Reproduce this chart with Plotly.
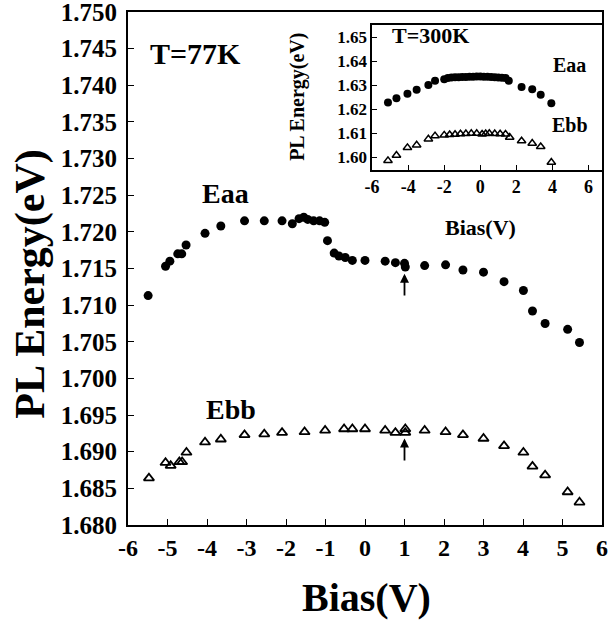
import plotly.graph_objects as go

# ---- Main panel (T=77K) ----
eaa_bias = [-5.49, -5.05, -4.94, -4.74, -4.64, -4.53, -4.05, -3.65, -3.05, -2.55, -2.10,
            -1.84, -1.67, -1.55, -1.45, -1.30, -1.15, -1.02, -0.95, -0.78, -0.66, -0.50,
            -0.32, 0.0, 0.51, 0.77, 1.0, 1.02, 1.51, 2.04, 2.48, 3.0, 3.52, 4.01, 4.24,
            4.56, 5.13, 5.43]
eaa_energy = [1.7113, 1.7153, 1.7160, 1.7170, 1.7170, 1.7182, 1.7198, 1.7208, 1.7215, 1.7215, 1.7215,
              1.7211, 1.7218, 1.7220, 1.7217, 1.7215, 1.7215, 1.7213, 1.7188, 1.7171, 1.7167, 1.7165,
              1.7161, 1.7161, 1.7160, 1.7158, 1.7157, 1.7152, 1.7154, 1.7155, 1.7148, 1.7145, 1.7132,
              1.7120, 1.7092, 1.7075, 1.7067, 1.7049]

ebb_bias = [-5.47, -5.05, -4.92, -4.70, -4.63, -4.52, -4.05, -3.65, -3.05, -2.55, -2.10,
            -1.53, -1.01, -0.53, -0.32, 0.0, 0.51, 0.77, 1.02, 1.02, 1.51, 2.04, 2.48, 3.0,
            3.52, 4.01, 4.24, 4.56, 5.13, 5.43]
ebb_energy = [1.6864, 1.6885, 1.6881, 1.6886, 1.6886, 1.6899, 1.6913, 1.6917, 1.6923, 1.6924, 1.6926,
              1.6927, 1.6929, 1.6931, 1.6931, 1.6931, 1.6929, 1.6926, 1.6931, 1.6926, 1.6929, 1.6927,
              1.6923, 1.6918, 1.6908, 1.6899, 1.6880, 1.6868, 1.6845, 1.6831]

main_xticks = [-6, -5, -4, -3, -2, -1, 0, 1, 2, 3, 4, 5, 6]
main_yticks = [1.680, 1.685, 1.690, 1.695, 1.700, 1.705, 1.710, 1.715, 1.720, 1.725,
               1.730, 1.735, 1.740, 1.745, 1.750]

# ---- Inset (T=300K) ----
in_eaa_bias = [-5.12, -4.65, -4.04, -3.53, -2.88, -2.51, -2.0, -1.8, -1.6, -1.4, -1.2, -1.0,
               -0.8, -0.6, -0.4, -0.2, 0.0, 0.2, 0.4, 0.6, 0.8, 1.0, 1.2, 1.4, 1.58, 2.29,
               2.88, 3.35, 3.94]
in_eaa_energy = [1.6228, 1.6246, 1.6264, 1.6281, 1.6301, 1.6318, 1.6325, 1.6330, 1.6332, 1.6333,
                 1.6333, 1.6334, 1.6334, 1.6335, 1.6335, 1.6336, 1.6336, 1.6335, 1.6335, 1.6334,
                 1.6333, 1.6332, 1.6331, 1.6330, 1.6318, 1.6292, 1.6283, 1.6260, 1.6225]

in_ebb_bias = [-5.12, -4.65, -4.04, -3.53, -2.88, -2.51, -2.0, -1.7, -1.4, -1.1, -0.8, -0.5,
               -0.2, 0.1, 0.3, 0.5, 0.8, 1.1, 1.4, 1.63, 2.29, 2.88, 3.35, 3.94]
in_ebb_energy = [1.5986, 1.6008, 1.6040, 1.6051, 1.6076, 1.6089, 1.6092, 1.6094, 1.6095, 1.6097,
                 1.6098, 1.6099, 1.6099, 1.6096, 1.6098, 1.6099, 1.6098, 1.6097, 1.6096, 1.6083,
                 1.6068, 1.6058, 1.6044, 1.5979]

inset_xticks = [-6, -4, -2, 0, 2, 4, 6]
inset_yticks = [1.60, 1.61, 1.62, 1.63, 1.64, 1.65]

arrow_bias = 1.0
arrow_eaa = (1.7111, 1.7143)
arrow_ebb = (1.6886, 1.6918)

FONT = "Liberation Serif"


def lab(v):
    return "{:g}".format(v)


fig = go.Figure()
fig.add_trace(go.Scatter(x=eaa_bias, y=eaa_energy, mode="markers",
                         marker=dict(symbol="circle", size=9, color="black"),
                         xaxis="x", yaxis="y", showlegend=False))
fig.add_trace(go.Scatter(x=ebb_bias, y=ebb_energy, mode="markers",
                         marker=dict(symbol="triangle-up-open", size=9, color="black",
                                     line=dict(width=1.8, color="black")),
                         xaxis="x", yaxis="y", showlegend=False))
fig.add_trace(go.Scatter(x=in_eaa_bias, y=in_eaa_energy, mode="markers",
                         marker=dict(symbol="circle", size=8, color="black"),
                         xaxis="x2", yaxis="y2", showlegend=False))
fig.add_trace(go.Scatter(x=in_ebb_bias, y=in_ebb_energy, mode="markers",
                         marker=dict(symbol="triangle-up-open", size=7.5, color="black",
                                     line=dict(width=1.5, color="black")),
                         xaxis="x2", yaxis="y2", showlegend=False))

bold = dict(family=FONT, color="black", weight="bold")

fig.update_layout(
    width=609, height=631,
    margin=dict(l=128, r=7, t=12, b=106, autoexpand=False),
    paper_bgcolor="white", plot_bgcolor="white",
    xaxis=dict(domain=[0, 1], range=[-6, 6],
               tickvals=main_xticks, ticktext=[lab(v) for v in main_xticks],
               showline=True, linecolor="black", linewidth=1.8, mirror=True,
               ticks="inside", ticklen=6, tickwidth=1.3, tickcolor="black",
               showgrid=False, zeroline=False, ticklabeloverflow="allow",
               tickfont=dict(size=24, **bold)),
    yaxis=dict(domain=[0, 1], range=[1.680, 1.750],
               tickvals=main_yticks, ticktext=["{:.3f}".format(v) for v in main_yticks],
               showline=True, linecolor="black", linewidth=1.8, mirror=True,
               ticks="inside", ticklen=6, tickwidth=1.3, tickcolor="black",
               showgrid=False, zeroline=False, ticklabeloverflow="allow",
               ticklabelstandoff=4,
               tickfont=dict(size=25, **bold)),
    xaxis2=dict(domain=[0.515, 1.0], anchor="y2", range=[-6, 6.75],
                tickvals=inset_xticks, ticktext=[lab(v) for v in inset_xticks],
                showline=True, linecolor="black", linewidth=1.6, mirror=True,
                ticks="inside", ticklen=5, tickwidth=1.3, tickcolor="black",
                showgrid=False, zeroline=False, ticklabeloverflow="allow",
                tickfont=dict(size=18, **bold)),
    yaxis2=dict(domain=[0.692, 0.975], anchor="x2", range=[1.5947, 1.6551],
                tickvals=inset_yticks, ticktext=["{:.2f}".format(v) for v in inset_yticks],
                showline=True, linecolor="black", linewidth=1.6,
                ticks="inside", ticklen=5, tickwidth=1.3, tickcolor="black",
                showgrid=False, zeroline=False, ticklabeloverflow="allow",
                tickfont=dict(size=17, **bold)),
)

# axis titles (paper annotations, positioned relative to the main plot area)
titles = [
    ("Bias(V)", 0.503, -0.141, 0, 40),
    ("PL Energy(eV)", -0.205, 0.470, -90, 42),
    ("Bias(V)", 0.744, 0.579, 0, 22),
    ("PL Energy(eV)", 0.357, 0.835, -90, 20),
]
for t, xv, yv, ang, sz in titles:
    fig.add_annotation(text=t, xref="paper", yref="paper", x=xv, y=yv, textangle=ang,
                       xanchor="center", yanchor="middle", showarrow=False,
                       font=dict(size=sz, **bold))

texts = [
    ("T=77K", "x", "y", -4.30, 1.7443, 30),
    ("Eaa", "x", "y", -3.54, 1.7252, 28),
    ("Ebb", "x", "y", -3.38, 1.6957, 28),
    ("T=300K", "x2", "y2", -2.75, 1.6508, 22),
    ("Eaa", "x2", "y2", 4.95, 1.6385, 20),
    ("Ebb", "x2", "y2", 4.95, 1.6135, 20),
]
for t, xr, yr, xv, yv, sz in texts:
    fig.add_annotation(text=t, xref=xr, yref=yr, x=xv, y=yv, showarrow=False,
                       xanchor="center", yanchor="middle",
                       font=dict(size=sz, **bold))

for base, tip in (arrow_eaa, arrow_ebb):
    fig.add_annotation(x=arrow_bias, y=tip, ax=arrow_bias, ay=base, xref="x", yref="y",
                       axref="x", ayref="y", text="", showarrow=True,
                       arrowhead=2, arrowsize=1, arrowwidth=1.8, arrowcolor="black")

# remove the default 8px page margin so the 609x631 figure fills the window exactly
fig.write_html("out.html",
               config={"displayModeBar": False},
               post_script="document.body.style.margin='0';document.body.style.overflow='hidden';")
